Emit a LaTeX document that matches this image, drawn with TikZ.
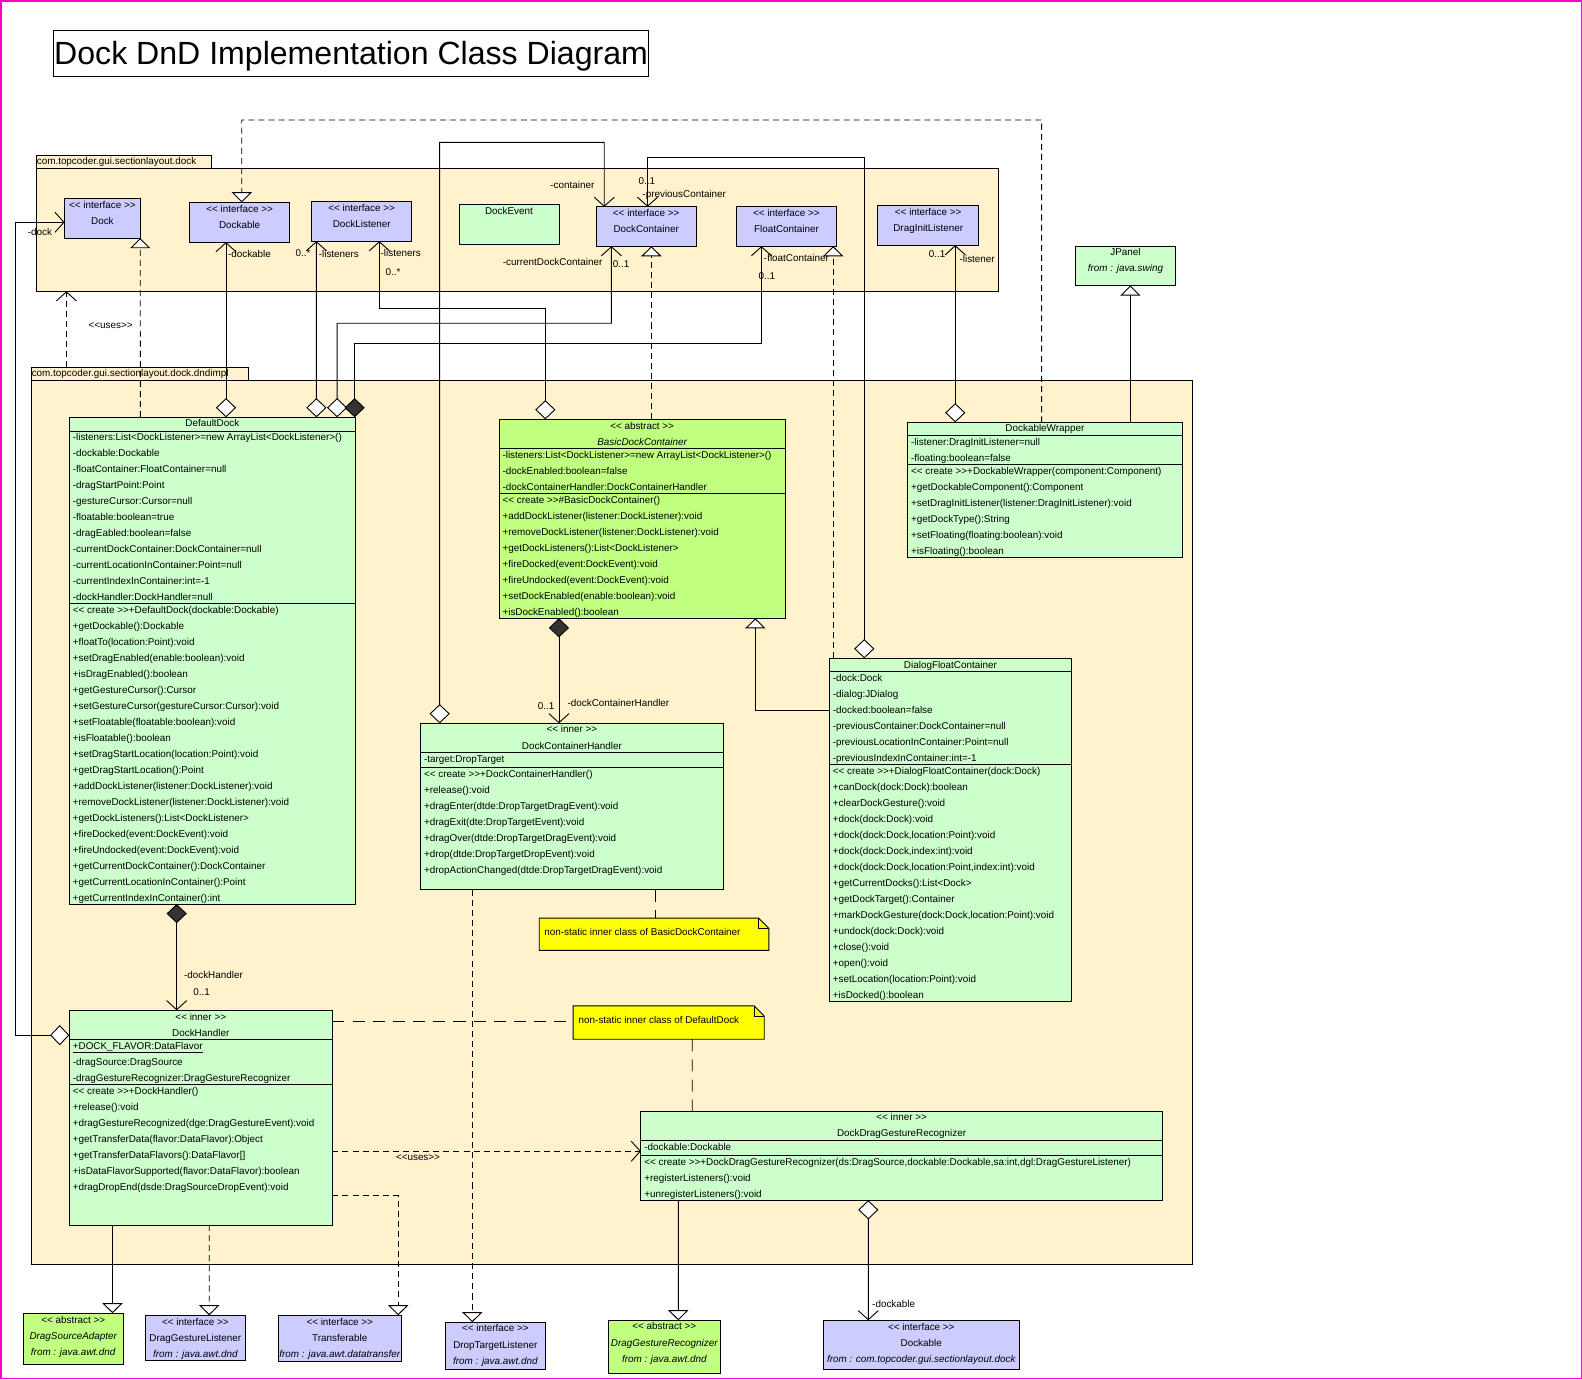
\documentclass[tikz,border=0pt]{standalone}
\usepackage{fontspec}
\setmainfont{Liberation Sans}[Ligatures=TeXOff]
\usetikzlibrary{arrows.meta}
\definecolor{cIfc}{RGB}{204,204,255}
\definecolor{cCls}{RGB}{204,255,204}
\definecolor{cAbs}{RGB}{192,255,128}
\definecolor{cPkg}{RGB}{255,242,204}
\definecolor{cNote}{RGB}{255,255,0}
\definecolor{cFrame}{RGB}{255,0,204}
\newcommand\fsm{\fontsize{9.8}{11}\selectfont}
\newcommand\umlbox[6]{\node[box,#2,minimum width={(#5)-(#3)},minimum height={(#6)-(#4)}] (#1) at ({((#3)+(#5))/2},{((#4)+(#6))/2}) {};}
\newcommand\rows[5]{\foreach \t [count=\i from 0] in {#5}{\node[lt] (#1-\i) at (#2,{#3+\i*#4}) {\t};}}
\newcommand\csep[2]{\draw ([yshift=-#2pt]#1.north west) -- ([yshift=-#2pt]#1.north east);}
\newcommand\umlnote[1]{\path[draw,fill=cNote] (#1.south west) -- (#1.north west) -- ([xshift=-10pt]#1.north east) -- ([yshift=-10pt]#1.north east) -- (#1.south east) -- cycle;
  \draw ([xshift=-10pt]#1.north east) -- ([xshift=-10pt,yshift=-10pt]#1.north east) -- ([yshift=-10pt]#1.north east);}
\tikzset{
 box/.style={draw,inner sep=0pt,outer sep=0pt},
 txt/.style={font=\fsm,inner sep=0pt,outer sep=0pt,text height=7pt,text depth=2pt},
 lt/.style={txt,anchor=west},
 it/.style={txt,font=\fsm\itshape},
 dep/.style={dash pattern=on 6pt off 4pt},
 nlink/.style={dash pattern=on 12pt off 8pt},
 opena/.tip={Straight Barb[length=9pt,width=20pt]},
 hdia/.tip={Diamond[length=19pt,width=20pt,fill=white]},
 fdia/.tip={Diamond[length=19pt,width=20pt,fill=black!80]},
 htri/.tip={Triangle[length=10pt,width=20pt,fill=white]},
}
\begin{document}
\begin{tikzpicture}[x=1pt,y=-1pt,line width=0.9pt]
\useasboundingbox (0,0) rectangle (1568,1367);
\draw[cFrame,line width=1.5pt] (0.75,0.75) rectangle (1567.25,1366.25);
% title
\node[box,minimum width=590,minimum height=46] (title) at (348,53) {};
\node[inner sep=0pt,font=\fontsize{31.8}{36}\selectfont] (title-t) at (348,56) {Dock DnD Implementation Class Diagram};
% packages
\umlbox{pkgAtab}{fill=cPkg}{36}{154.3}{210}{166.8}
\umlbox{pkgA}{fill=cPkg}{36}{166.8}{989.4}{288.7}
\node[lt] (pkgAlab) at (36.5,160.8) {com.topcoder.gui.sectionlayout.dock};
\umlbox{pkgBtab}{fill=cPkg}{31}{364}{246}{377}
\umlbox{pkgB}{fill=cPkg}{31}{377}{1181.7}{1253}
\node[lt] (pkgBlab) at (31.5,370.8) {com.topcoder.gui.sectionlayout.dock.dndimpl};
% interfaces in dock package
\umlbox{dock}{fill=cIfc}{64}{197}{139}{236}
\node[txt] (dock-s) at (101.5,204.2) {<< interface >>};
\node[txt] (dock-n) at (101.5,220) {Dock};
\umlbox{dockable}{fill=cIfc}{188}{200.5}{287}{240}
\node[txt] (dockable-s) at (237.5,207.8) {<< interface >>};
\node[txt] (dockable-n) at (237.5,223.6) {Dockable};
\umlbox{dlis}{fill=cIfc}{309}{199.5}{408}{239}
\node[txt] (dlis-s) at (358.5,206.8) {<< interface >>};
\node[txt] (dlis-n) at (358.5,222.7) {DockListener};
\umlbox{devt}{fill=cCls}{455}{202.5}{554}{242}
\node[txt] (devt-n) at (504.5,209.8) {DockEvent};
\umlbox{dcont}{fill=cIfc}{591}{205}{690}{244}
\node[txt] (dcont-s) at (640.5,211.8) {<< interface >>};
\node[txt] (dcont-n) at (640.5,227.6) {DockContainer};
\umlbox{fcont}{fill=cIfc}{730}{205}{829}{244}
\node[txt] (fcont-s) at (779.5,211.8) {<< interface >>};
\node[txt] (fcont-n) at (779.5,227.6) {FloatContainer};
\umlbox{dil}{fill=cIfc}{870}{204}{970}{243}
\node[txt] (dil-s) at (920,210.8) {<< interface >>};
\node[txt] (dil-n) at (920,226.6) {DragInitListener};
\umlbox{jpanel}{fill=cCls}{1066}{244}{1165}{283}
\node[txt] (jpanel-n) at (1115.5,250.6) {JPanel};
\node[it] (jpanel-f) at (1115.5,266.3) {from : java.swing};
% DefaultDock
\umlbox{ddock}{fill=cCls}{68.7}{413.6}{352.2}{896}
\node[txt] (ddock-n) at (210.45,420.6) {DefaultDock};
\csep{ddock}{14.2}
\csep{ddock}{184.4}
\rows{dda}{72.2}{433.8}{15.86}{{-listeners:List<DockListener>=new ArrayList<DockListener>()},{-dockable:Dockable},{-floatContainer:FloatContainer=null},{-dragStartPoint:Point},{-gestureCursor:Cursor=null},{-floatable:boolean=true},{-dragEabled:boolean=false},{-currentDockContainer:DockContainer=null},{-currentLocationInContainer:Point=null},{-currentIndexInContainer:int=-1},{-dockHandler:DockHandler=null}}
\rows{ddm}{72.2}{605.2}{15.86}{{<< create >>+DefaultDock(dockable:Dockable)},{+getDockable():Dockable},{+floatTo(location:Point):void},{+setDragEnabled(enable:boolean):void},{+isDragEnabled():boolean},{+getGestureCursor():Cursor},{+setGestureCursor(gestureCursor:Cursor):void},{+setFloatable(floatable:boolean):void},{+isFloatable():boolean},{+setDragStartLocation(location:Point):void},{+getDragStartLocation():Point},{+addDockListener(listener:DockListener):void},{+removeDockListener(listener:DockListener):void},{+getDockListeners():List<DockListener>},{+fireDocked(event:DockEvent):void},{+fireUndocked(event:DockEvent):void},{+getCurrentDockContainer():DockContainer},{+getCurrentLocationInContainer():Point},{+getCurrentIndexInContainer():int}}
% BasicDockContainer
\umlbox{bdc}{fill=cAbs}{494.6}{415.6}{778.3}{612.8}
\node[txt] (bdc-s) at (636.45,423.2) {<< abstract >>};
\node[it] (bdc-n) at (636.45,438.7) {BasicDockContainer};
\csep{bdc}{28.7}
\csep{bdc}{73.4}
\rows{bdca}{498.1}{451.9}{15.86}{{-listeners:List<DockListener>=new ArrayList<DockListener>()},{-dockEnabled:boolean=false},{-dockContainerHandler:DockContainerHandler}}
\rows{bdcm}{498.1}{496.5}{15.86}{{<< create >>\#BasicDockContainer()},{+addDockListener(listener:DockListener):void},{+removeDockListener(listener:DockListener):void},{+getDockListeners():List<DockListener>},{+fireDocked(event:DockEvent):void},{+fireUndocked(event:DockEvent):void},{+setDockEnabled(enable:boolean):void},{+isDockEnabled():boolean}}
% DockableWrapper
\umlbox{dwrap}{fill=cCls}{899.6}{418.6}{1171.8}{552.3}
\node[txt] (dwrap-n) at (1035.7,425.4) {DockableWrapper};
\csep{dwrap}{13.2}
\csep{dwrap}{41.6}
\rows{dwa}{903.1}{438.7}{15.86}{{-listener:DragInitListener=null},{-floating:boolean=false}}
\rows{dwm}{903.1}{467.5}{15.86}{{<< create >>+DockableWrapper(component:Component)},{+getDockableComponent():Component},{+setDragInitListener(listener:DragInitListener):void},{+getDockType():String},{+setFloating(floating:boolean):void},{+isFloating():boolean}}
% DockContainerHandler
\umlbox{dch}{fill=cCls}{416.9}{716.9}{716.9}{882}
\node[txt] (dch-s) at (566.9,723.8) {<< inner >>};
\node[txt] (dch-n) at (566.9,740) {DockContainerHandler};
\csep{dch}{28.7}
\csep{dch}{43.9}
\rows{dcha}{420.4}{753.2}{15.86}{{-target:DropTarget}}
\rows{dchm}{420.4}{768.1}{15.86}{{<< create >>+DockContainerHandler()},{+release():void},{+dragEnter(dtde:DropTargetDragEvent):void},{+dragExit(dte:DropTargetEvent):void},{+dragOver(dtde:DropTargetDragEvent):void},{+drop(dtde:DropTargetDropEvent):void},{+dropActionChanged(dtde:DropTargetDragEvent):void}}
% DialogFloatContainer
\umlbox{dfc}{fill=cCls}{822}{652.5}{1062.1}{993}
\node[txt] (dfc-n) at (942,659.7) {DialogFloatContainer};
\csep{dfc}{13.2}
\csep{dfc}{104.7}
\rows{dfca}{825.5}{673}{15.86}{{-dock:Dock},{-dialog:JDialog},{-docked:boolean=false},{-previousContainer:DockContainer=null},{-previousLocationInContainer:Point=null},{-previousIndexInContainer:int=-1}}
\rows{dfcm}{825.5}{765.1}{15.86}{{<< create >>+DialogFloatContainer(dock:Dock)},{+canDock(dock:Dock):boolean},{+clearDockGesture():void},{+dock(dock:Dock):void},{+dock(dock:Dock,location:Point):void},{+dock(dock:Dock,index:int):void},{+dock(dock:Dock,location:Point,index:int):void},{+getCurrentDocks():List<Dock>},{+getDockTarget():Container},{+markDockGesture(dock:Dock,location:Point):void},{+undock(dock:Dock):void},{+close():void},{+open():void},{+setLocation(location:Point):void},{+isDocked():boolean}}
% DockHandler
\umlbox{dh}{fill=cCls}{68.7}{1001.3}{329.4}{1214.1}
\node[txt] (dh-s) at (199,1008.6) {<< inner >>};
\node[txt] (dh-n) at (199,1024.5) {DockHandler};
\csep{dh}{28.7}
\csep{dh}{73.4}
\rows{dha}{72.2}{1037.3}{15.86}{{\underline{+DOCK\_FLAVOR:DataFlavor}},{-dragSource:DragSource},{-dragGestureRecognizer:DragGestureRecognizer}}
\rows{dhm}{72.2}{1081.9}{15.86}{{<< create >>+DockHandler()},{+release():void},{+dragGestureRecognized(dge:DragGestureEvent):void},{+getTransferData(flavor:DataFlavor):Object},{+getTransferDataFlavors():DataFlavor[]},{+isDataFlavorSupported(flavor:DataFlavor):boolean},{+dragDropEnd(dsde:DragSourceDropEvent):void}}
% DockDragGestureRecognizer
\umlbox{ddgr}{fill=cCls}{635.2}{1101.4}{1152}{1189.6}
\node[txt] (ddgr-s) at (893.6,1108.4) {<< inner >>};
\node[txt] (ddgr-n) at (893.6,1124.2) {DockDragGestureRecognizer};
\csep{ddgr}{29.1}
\csep{ddgr}{43.6}
\rows{ddgra}{638.7}{1137.4}{15.86}{{-dockable:Dockable}}
\rows{ddgrm}{638.7}{1152.6}{15.86}{{<< create >>+DockDragGestureRecognizer(ds:DragSource,dockable:Dockable,sa:int,dgl:DragGestureListener)},{+registerListeners():void},{+unregisterListeners():void}}
% notes
\node[inner sep=0pt,outer sep=0pt,minimum width=227.5,minimum height=32] (note1) at (648.25,926) {};
\umlnote{note1}
\node[lt] (note1-t) at (539.5,924.4) {non-static inner class of BasicDockContainer};
\node[inner sep=0pt,outer sep=0pt,minimum width=189.4,minimum height=33] (note2) at (662.8,1013.5) {};
\umlnote{note2}
\node[lt] (note2-t) at (573.6,1012) {non-static inner class of DefaultDock};
% external classes
\umlbox{dsa}{fill=cAbs}{23}{1301.6}{122.1}{1351.9}
\node[txt] (dsa-s) at (72.55,1309) {<< abstract >>};
\node[it] (dsa-n) at (72.55,1324.8) {DragSourceAdapter};
\node[it] (dsa-f) at (72.55,1340.6) {from : java.awt.dnd};
\umlbox{dgl}{fill=cIfc}{144.1}{1303.6}{243.2}{1348.2}
\node[txt] (dgl-s) at (193.65,1311) {<< interface >>};
\node[txt] (dgl-n) at (193.65,1326.8) {DragGestureListener};
\node[it] (dgl-f) at (193.65,1342.6) {from : java.awt.dnd};
\umlbox{trans}{fill=cIfc}{275.7}{1303.6}{397.8}{1349.2}
\node[txt] (trans-s) at (336.75,1311) {<< interface >>};
\node[txt] (trans-n) at (336.75,1326.8) {Transferable};
\node[it] (trans-f) at (336.75,1342.6) {from : java.awt.datatransfer};
\umlbox{dtl}{fill=cIfc}{441.4}{1310.5}{540.5}{1357.1}
\node[txt] (dtl-s) at (490.95,1317.5) {<< interface >>};
\node[txt] (dtl-n) at (490.95,1333.7) {DropTargetListener};
\node[it] (dtl-f) at (490.95,1349.6) {from : java.awt.dnd};
\umlbox{dgr}{fill=cAbs}{602.9}{1308.6}{713.9}{1361.7}
\node[txt] (dgr-s) at (658.4,1315.5) {<< abstract >>};
\node[it] (dgr-n) at (658.4,1331.7) {DragGestureRecognizer};
\node[it] (dgr-f) at (658.4,1347.9) {from : java.awt.dnd};
\umlbox{dockx}{fill=cIfc}{816}{1308.6}{1010.2}{1357.1}
\node[txt] (dockx-s) at (913.1,1315.9) {<< interface >>};
\node[txt] (dockx-n) at (913.1,1331.7) {Dockable};
\node[it] (dockx-f) at (913.1,1347.6) {from : com.topcoder.gui.sectionlayout.dock};
% connectors
\draw[dep,-opena] ([xshift=34.8pt]pkgBtab.north west) -- ([xshift=29.8pt]pkgA.south west);
\node[txt] (uses1) at (109.7,322.8) {<<uses>>};
\draw[dep,-htri] ([xshift=70.4pt]ddock.north west) -- (dock.south east);
\draw[hdia-opena] ([xshift=155.3pt]ddock.north west) -- ([xshift=36pt]dockable.south west);
\draw[hdia-opena] ([xshift=244.9pt]ddock.north west) -- ([xshift=4.6pt]dlis.south west);
\draw[hdia-opena] ([xshift=265.4pt]ddock.north west) -- (334.1,320.4) -- (606,320.4) -- ([xshift=15pt]dcont.south west);
\draw[fdia-opena] ([xshift=-0.7pt]ddock.north east) -- (351.5,340.3) -- (754.7,340.3) -- ([xshift=24.7pt]fcont.south west);
\draw[hdia-opena] ([xshift=45.9pt]bdc.north west) -- (540.5,306) -- (376,306) -- ([xshift=67pt]dlis.south west);
\draw[hdia-opena] ([xshift=18.9pt]dch.north west) -- (435.8,141.1) -- (598.9,141.1) -- ([xshift=7.9pt]dcont.north west);
\draw[hdia-opena] ([xshift=34.6pt]dfc.north west) -- (856.6,156) -- (641.8,156) -- ([xshift=50.8pt]dcont.north west);
\draw[dep,-htri] ([xshift=151pt]bdc.north west) -- ([xshift=54.6pt]dcont.south west);
\draw[dep,-htri] ([xshift=3.8pt]dfc.north west) -- ([xshift=95.8pt]fcont.south west);
\draw[hdia-opena] ([xshift=47.2pt]dwrap.north west) -- ([xshift=76.8pt]dil.south west);
\draw[dep,-htri] ([xshift=132.8pt]dwrap.north west) -- (1032.4,118.9) -- (239.6,118.9) -- ([xshift=51.6pt]dockable.north west);
\draw[-htri] ([xshift=220.7pt]dwrap.north west) -- ([xshift=54.3pt]jpanel.south west);
\draw[fdia-opena] ([xshift=59.4pt]bdc.south west) -- ([xshift=137.1pt]dch.north west);
\draw[-htri] ([yshift=-51.5pt]dfc.north west) -- (748.6,704) -- ([xshift=254pt]bdc.south west);
\draw[fdia-opena] ([xshift=106.4pt]ddock.south west) -- ([xshift=106.4pt]dh.north west);
\draw[hdia-opena] ([yshift=-24.7pt]dh.north west) -- (15.2,1026) -- (15.2,220.3) -- ([yshift=-23.3pt]dock.north west);
\draw[nlink] ([yshift=-11.2pt]dh.north east) -- ([yshift=-15.5pt]note2.north west);
\draw[nlink] ([xshift=118pt]note2.south west) -- ([xshift=50.9pt]ddgr.north west);
\draw[nlink] ([xshift=232.6pt]dch.south west) -- ([xshift=115pt]note1.north west);
\draw[dep,-opena] ([yshift=-139.7pt]dh.north east) -- ([yshift=-39.6pt]ddgr.north west);
\draw[dep,-htri] ([yshift=-184pt]dh.north east) -- (394.7,1185.3) -- ([xshift=119pt]trans.north west);
\draw[-htri] ([xshift=42.8pt]dh.south west) -- ([xshift=88.5pt]dsa.north west);
\draw[dep,-htri] ([xshift=138.7pt]dh.south west) -- ([xshift=63.3pt]dgl.north west);
\draw[dep,-htri] ([xshift=51.2pt]dch.south west) -- ([xshift=26.7pt]dtl.north west);
\draw[-htri] ([xshift=37.1pt]ddgr.south west) -- ([xshift=69.4pt]dgr.north west);
\draw[hdia-opena] ([xshift=225.4pt]ddgr.south west) -- ([xshift=44.6pt]dockx.north west);
% connector labels
\node[lt] (l-dock) at (27.6,231) {-dock};
\node[lt] (l-dockable) at (226,252.4) {-dockable};
\node[lt] (l-m1) at (293,251.4) {0..*};
\node[lt] (l-lis1) at (316,252.4) {-listeners};
\node[lt] (l-lis2) at (377.3,251.4) {-listeners};
\node[lt] (l-m2) at (382.3,270.2) {0..*};
\node[lt] (l-cont) at (545.5,184.3) {-container};
\node[lt] (l-m3) at (633,180.7) {0..1};
\node[lt] (l-prev) at (636.8,193.3) {-previousContainer};
\node[lt] (l-cur) at (498.4,260.3) {-currentDockContainer};
\node[lt] (l-m4) at (607.4,262.3) {0..1};
\node[lt] (l-float) at (757.2,256.4) {-floatContainer};
\node[lt] (l-m5) at (751.8,274.9) {0..1};
\node[lt] (l-m6) at (920.7,252.4) {0..1};
\node[lt] (l-listener) at (951.1,257.4) {-listener};
\node[lt] (l-m7) at (533.2,700.4) {0..1};
\node[lt] (l-dchand) at (562.6,697.4) {-dockContainerHandler};
\node[lt] (l-dhand) at (182.4,967) {-dockHandler};
\node[lt] (l-m8) at (191.6,983.8) {0..1};
\node[lt] (uses2) at (392.5,1147.4) {<<uses>>};
\node[lt] (l-dockable2) at (864.5,1293) {-dockable};
\end{tikzpicture}
\end{document}
